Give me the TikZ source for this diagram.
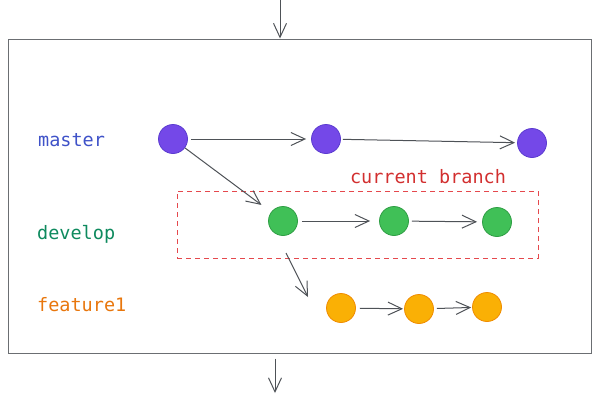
\documentclass[tikz,border=0pt]{standalone}
\usepackage{fontspec}
\setmonofont{DejaVu Sans Mono}
\usetikzlibrary{arrows.meta}
\definecolor{edgegray}{HTML}{4E5257}
\definecolor{boxgray}{HTML}{6B6E72}
\definecolor{mblue}{HTML}{3F52C8}
\definecolor{dgreen}{HTML}{0E8A5E}
\definecolor{forange}{HTML}{E8760C}
\definecolor{cred}{HTML}{D22F2F}
\definecolor{dashred}{HTML}{E5484D}
\definecolor{mfill}{HTML}{7448E8}
\definecolor{mstroke}{HTML}{5B3BD0}
\definecolor{gfill}{HTML}{40C057}
\definecolor{gstroke}{HTML}{2F9E44}
\definecolor{ofill}{HTML}{FAB005}
\definecolor{ostroke}{HTML}{F08C00}
\tikzset{
  commit/.style={circle, minimum size=29pt, inner sep=0pt, line width=0.8pt},
  mcommit/.style={commit, fill=mfill, draw=mstroke},
  gcommit/.style={commit, fill=gfill, draw=gstroke},
  ocommit/.style={commit, fill=ofill, draw=ostroke},
  lblfont/.style={font=\fontsize{18.5}{21}\selectfont\ttfamily, inner sep=0pt},
  lbl/.style={lblfont, anchor=west},
  flow/.style={draw=edgegray, line width=1pt, -{Straight Barb[length=14pt,width=13pt,line width=1pt]}},
}
\begin{document}
\begin{tikzpicture}[x=1pt,y=-1pt]
\useasboundingbox (0,0) rectangle (600,400);
% outer box
\node[draw=boxgray, line width=1pt, minimum width=583pt, minimum height=314pt, inner sep=0pt] (frame) at (299.5,196) {};
\coordinate (topin) at (280,0);
\coordinate (botout) at (275,393);
\draw[flow] (topin) -- (frame.north -| topin);
\draw[flow] ([yshift=-5pt]frame.south -| botout) -- (botout);
% labels
\node[lbl, text=mblue] (lm) at (38,140) {master};
\node[lbl, text=dgreen] (ld) at (37,234) {develop};
\node[lbl, text=forange] (lf) at (37,305) {feature1};
\node[lblfont, text=cred] (lc) at (428,177) {current branch};
% current branch box
\node[draw=dashred, line width=0.9pt, dash pattern=on 5pt off 4pt, minimum width=361pt, minimum height=67pt, inner sep=0pt] (cur) at (357.5,224.5) {};
% commits
\node[mcommit] (m1) at (173,139) {};
\node[mcommit] (m2) at (326,139) {};
\node[mcommit] (m3) at (532,143) {};
\node[gcommit] (d1) at (283,221) {};
\node[gcommit] (d2) at (394,221) {};
\node[gcommit] (d3) at (497,222) {};
\node[ocommit] (f1) at (341,308) {};
\node[ocommit] (f2) at (419,309) {};
\node[ocommit] (f3) at (487,307) {};
% connectors
\draw[flow, shorten <=3pt, shorten >=5pt] (m1) -- (m2);
\draw[flow, shorten <=2pt, shorten >=2pt] (m2) -- (m3);
\draw[flow, shorten >=12pt] (m1) -- (d1);
\draw[flow, shorten <=4pt, shorten >=9pt] (d1) -- (d2);
\draw[flow, shorten <=3pt, shorten >=5pt] (d2) -- (d3);
\coordinate (dfa) at ([shift={(3pt,-32pt)}]d1.center);
\coordinate (dfb) at ([shift={(-33pt,11pt)}]f1.center);
\draw[flow] (dfa) -- (dfb);
\draw[flow, shorten <=4pt, shorten >=1pt] (f1) -- (f2);
\draw[flow, shorten <=3pt, shorten >=1pt] (f2) -- (f3);
\end{tikzpicture}
\end{document}
